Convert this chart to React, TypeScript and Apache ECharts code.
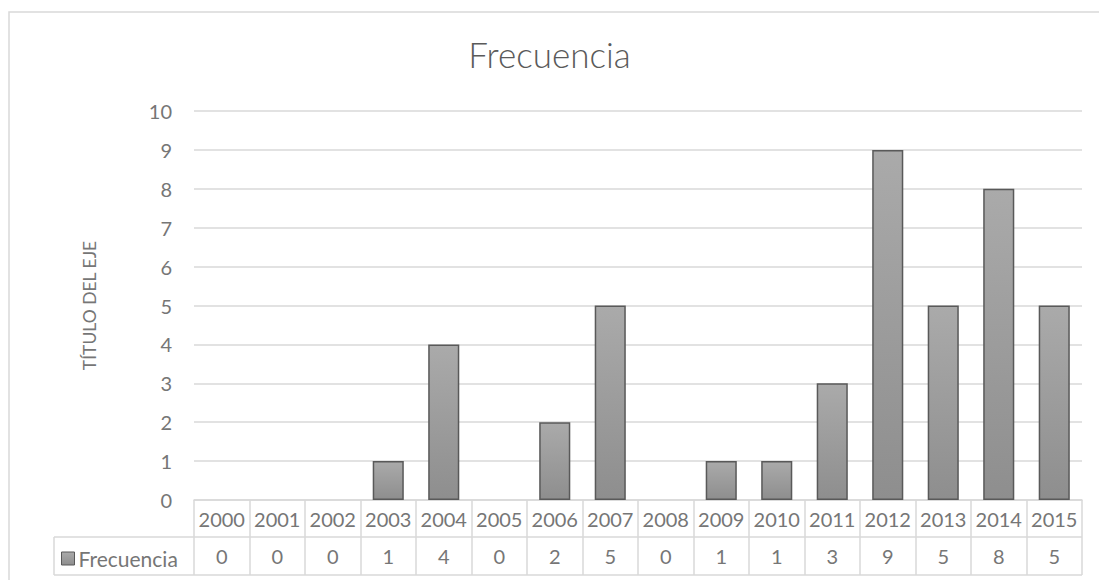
import React, { useEffect, useRef } from "react";
import * as echarts from "echarts";

const categories = ["2000", "2001", "2002", "2003", "2004", "2005", "2006", "2007", "2008", "2009", "2010", "2011", "2012", "2013", "2014", "2015"];
const frecuencia = [0, 0, 0, 1, 4, 0, 2, 5, 0, 1, 1, 3, 9, 5, 8, 5];
const seriesName = "Frecuencia";
const chartTitle = "Frecuencia";
const yAxisTitle = "TÍTULO DEL EJE";

const FONT = "Lato, 'Noto Sans', sans-serif";
const TXT = "#767676";
const LINE = "#d9d9d9";

export default function App() {
  const ref = useRef<HTMLDivElement>(null);
  useEffect(() => {
    document.body.style.margin = "0";
    const chart = echarts.init(ref.current!, null, { renderer: "svg" });
    const barColor = new echarts.graphic.LinearGradient(0, 0, 0, 1, [
      { offset: 0, color: "#aaaaaa" },
      { offset: 1, color: "#8e8e8e" },
    ]);
    const gridLeft = 194, gridRight = 1082, gridTop = 111, gridBottom = 500;
    const label = { fontFamily: FONT, fontSize: 20, fontWeight: "normal", color: TXT };
    chart.setOption({
      animation: false,
      textStyle: { fontFamily: FONT },
      title: {
        text: chartTitle,
        left: "center",
        top: 36,
        padding: 0,
        textStyle: { fontFamily: FONT, fontSize: 35, fontWeight: 300, color: "#5a5a5a" },
      },
      legend: {
        left: 61,
        top: 548,
        padding: 0,
        itemWidth: 13,
        itemHeight: 13,
        itemGap: 4,
        icon: "rect",
        textStyle: { ...label, fontSize: 21, padding: [0, 0, 0, -1] },
        data: [{ name: seriesName, itemStyle: { color: barColor, borderColor: "#595959", borderWidth: 1 } }],
      },
      grid: { left: gridLeft, right: 1099 - gridRight, top: gridTop, bottom: 580 - gridBottom, containLabel: false },
      xAxis: [
        {
          type: "category",
          data: categories,
          axisLine: { show: true, lineStyle: { color: LINE, width: 1.5 } },
          axisTick: { show: true, length: 75, lineStyle: { color: LINE, width: 1.5 } },
          axisLabel: { ...label, margin: 9, interval: 0 },
        },
        {
          type: "category",
          position: "bottom",
          offset: 37,
          data: frecuencia.map(String),
          axisLine: { show: false },
          axisTick: { show: false },
          axisLabel: { ...label, margin: 9, interval: 0 },
        },
      ],
      yAxis: {
        type: "value",
        min: 0,
        max: 10,
        interval: 1,
        name: yAxisTitle,
        nameLocation: "middle",
        nameRotate: 90,
        nameGap: 96,
        nameTextStyle: { ...label, fontSize: 17.5 },
        axisLine: { show: false },
        axisTick: { show: false },
        axisLabel: { ...label, margin: 22 },
        splitLine: { lineStyle: { color: LINE, width: 1.5 } },
      },
      series: [
        {
          name: seriesName,
          type: "bar",
          xAxisIndex: 0,
          data: frecuencia.map((v) => (v === 0 ? { value: v, itemStyle: { borderWidth: 0, opacity: 0 } } : v)),
          barCategoryGap: "44%",
          itemStyle: { color: barColor, borderColor: "#595959", borderWidth: 1.5 },
        },
      ],
      graphic: [
        {
          type: "rect",
          shape: { x: 9, y: 12, width: 1200, height: 700 },
          style: { fill: "none", stroke: LINE, lineWidth: 1.5 },
          silent: true,
        },
        {
          type: "line",
          shape: { x1: 54, y1: 537, x2: gridRight, y2: 537 },
          style: { stroke: LINE, lineWidth: 1.5 },
        },
        {
          type: "line",
          shape: { x1: 54, y1: 575, x2: gridRight, y2: 575 },
          style: { stroke: LINE, lineWidth: 1.5 },
        },
        {
          type: "line",
          shape: { x1: 54, y1: 537, x2: 54, y2: 575 },
          style: { stroke: LINE, lineWidth: 1.5 },
        },
      ],
    });
    return () => chart.dispose();
  }, []);
  return <div ref={ref} style={{ width: 1099, height: 580 }} />;
}
